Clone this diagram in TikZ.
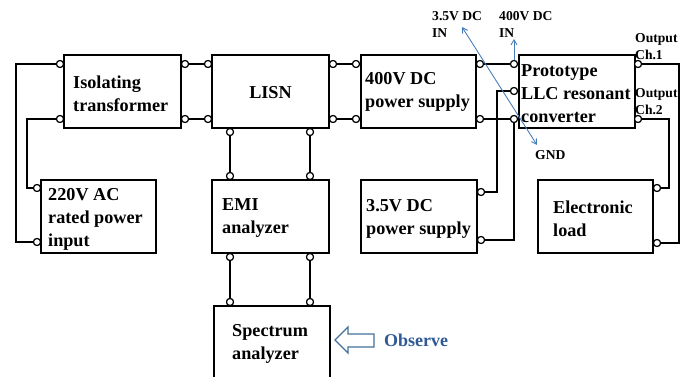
\documentclass[tikz,border=0pt]{standalone}
\usepackage{fontspec}
\setmainfont{Liberation Serif}
\usetikzlibrary{arrows.meta}
\definecolor{bluel}{HTML}{4A7EBB}
\definecolor{obsblue}{HTML}{2F5A96}
\definecolor{obsline}{HTML}{41719C}
\tikzset{
  box/.style={draw, line width=1.6pt, rectangle, inner sep=0pt},
  lbl/.style={anchor=west, align=left, inner sep=0pt, font=\fontsize{18.2}{23}\selectfont\bfseries},
  small/.style={anchor=west, align=left, inner sep=0pt, font=\fontsize{13.6}{17}\selectfont\bfseries},
  term/.style={circle, draw, fill=white, line width=1.1pt, inner sep=0pt, minimum size=7pt},
  wire/.style={line width=1.8pt},
  bluearrow/.style={draw=bluel, line width=0.9pt, {Straight Barb[length=5pt,width=6pt]}-{Straight Barb[length=5pt,width=6pt]}},
  bluearrowone/.style={draw=bluel, line width=0.9pt, -{Straight Barb[length=5pt,width=6pt]}}
}
\begin{document}
\begin{tikzpicture}[x=1pt,y=-1pt]
\clip (0,0) rectangle (691,377);
\useasboundingbox (0,0) rectangle (691,377);
% boxes
\node[box, minimum width=117pt, minimum height=73pt] (iso) at (122.5,91.5) {};
\node[box, minimum width=117pt, minimum height=73pt] (lisn) at (270.5,91.5) {};
\node[box, minimum width=115pt, minimum height=73pt] (dc400) at (418.5,91.5) {};
\node[box, minimum width=116pt, minimum height=73pt] (conv) at (577,91.5) {};
\node[box, minimum width=115pt, minimum height=73pt] (ac) at (98.5,216.5) {};
\node[box, minimum width=117pt, minimum height=73pt] (emi) at (270.5,216.5) {};
\node[box, minimum width=116pt, minimum height=73pt] (dc35) at (419,216.5) {};
\node[box, minimum width=115pt, minimum height=73pt] (load) at (595.5,216.5) {};
\node[box, minimum width=116pt, minimum height=79pt] (spec) at (272,345.5) {};
% texts
\node[lbl] (isoT) at (73,93.5) {Isolating\\transformer};
\node[lbl, anchor=center] (lisnT) at (270.5,93) {LISN};
\node[lbl] (dc400T) at (365,91.5) {400V DC\\power supply};
\node[lbl] (convT) at (521,93.5) {Prototype\\LLC resonant\\converter};
\node[lbl] (acT) at (48,219) {220V AC\\rated power\\input};
\node[lbl] (emiT) at (222,218.5) {EMI\\analyzer};
\node[lbl] (dc35T) at (366,218.5) {3.5V DC\\power supply};
\node[lbl] (loadT) at (553,219) {Electronic\\load};
\node[lbl] (specT) at (232,343.5) {Spectrum\\analyzer};
\node[small] (in35) at (432,24.5) {3.5V DC\\IN};
\node[small] (in400) at (499,24.5) {400V DC\\IN};
\node[small] (gnd) at (535,155) {GND};
\node[small] (out1) at (635,47) {Output\\Ch.1};
\node[small] (out2) at (635,102) {Output\\Ch.2};
\node[anchor=west, inner sep=0pt, text=obsblue, font=\fontsize{18}{21}\selectfont\bfseries] (obsT) at (384,340) {Observe};
% terminals
\node[term] (isoL1) at (60,64) {};
\node[term] (isoL2) at (60,119) {};
\node[term] (isoR1) at (185,64) {};
\node[term] (isoR2) at (185,119) {};
\node[term] (lisnL1) at (208,64) {};
\node[term] (lisnL2) at (208,119) {};
\node[term] (lisnR1) at (333,64) {};
\node[term] (lisnR2) at (333,119) {};
\node[term] (lisnB1) at (230,132) {};
\node[term] (lisnB2) at (310,132) {};
\node[term] (emiT1) at (230,176) {};
\node[term] (emiT2) at (310,176) {};
\node[term] (emiB1) at (230,257) {};
\node[term] (emiB2) at (310,257) {};
\node[term] (specT1) at (230,302) {};
\node[term] (specT2) at (310,302) {};
\node[term] (dcL1) at (356,64) {};
\node[term] (dcL2) at (356,119) {};
\node[term] (dcR1) at (480,64) {};
\node[term] (dcR2) at (480,119) {};
\node[term] (cvL1) at (514,64) {};
\node[term] (cvL2) at (514,91) {};
\node[term] (cvL3) at (514,119) {};
\node[term] (cvR1) at (638,64) {};
\node[term] (cvR2) at (638,119) {};
\node[term] (acL1) at (37,188) {};
\node[term] (acL2) at (37,242) {};
\node[term] (d35R1) at (481,192) {};
\node[term] (d35R2) at (481,240) {};
\node[term] (ldR1) at (657,188) {};
\node[term] (ldR2) at (657,243) {};
% wires
\draw[wire] (isoR1) -- (lisnL1);
\draw[wire] (isoR2) -- (lisnL2);
\draw[wire] (lisnR1) -- (dcL1);
\draw[wire] (lisnR2) -- (dcL2);
\draw[wire] (dcR1) -- (cvL1);
\draw[wire] (dcR2) -- (cvL3);
\draw[wire] (lisnB1) -- (emiT1);
\draw[wire] (lisnB2) -- (emiT2);
\draw[wire] (emiB1) -- (specT1);
\draw[wire] (emiB2) -- (specT2);
\draw[wire] (isoL1) -- (16,64) -- (16,242) -- (acL2);
\draw[wire] (isoL2) -- (27,119) -- (27,188) -- (acL1);
\draw[wire] (d35R1) -- (497,192) -- (497,91) -- (cvL2);
\draw[wire] (d35R2) -- (514,240) -- (cvL3);
\draw[wire] (cvR1) -- (679,64) -- (679,243) -- (ldR2);
\draw[wire] (cvR2) -- (669,119) -- (669,188) -- (ldR1);
% redraw terminals on top
\foreach \t in {isoR1,isoR2,lisnL1,lisnL2,lisnR1,lisnR2,dcL1,dcL2,dcR1,dcR2,cvL1,cvL2,cvL3,cvR1,cvR2,lisnB1,lisnB2,emiT1,emiT2,emiB1,emiB2,specT1,specT2,isoL1,isoL2,acL1,acL2,d35R1,d35R2,ldR1,ldR2}
  \draw[line width=1.1pt, fill=white] (\t) circle (3.5pt);
% blue arrows
\coordinate (b1) at (462,27);
\coordinate (b2) at (537,145);
\coordinate (b3) at (514,39);
\draw[bluearrow] (b1) -- (b2);
\draw[bluearrowone] (cvL1.north) -- (b3);
% observe arrow
\draw[obsline, line width=1.2pt, fill=white] (335,340) -- (348,327) -- (348,334) -- (374,334) -- (374,347) -- (348,347) -- (348,353) -- cycle;
\end{tikzpicture}
\end{document}
